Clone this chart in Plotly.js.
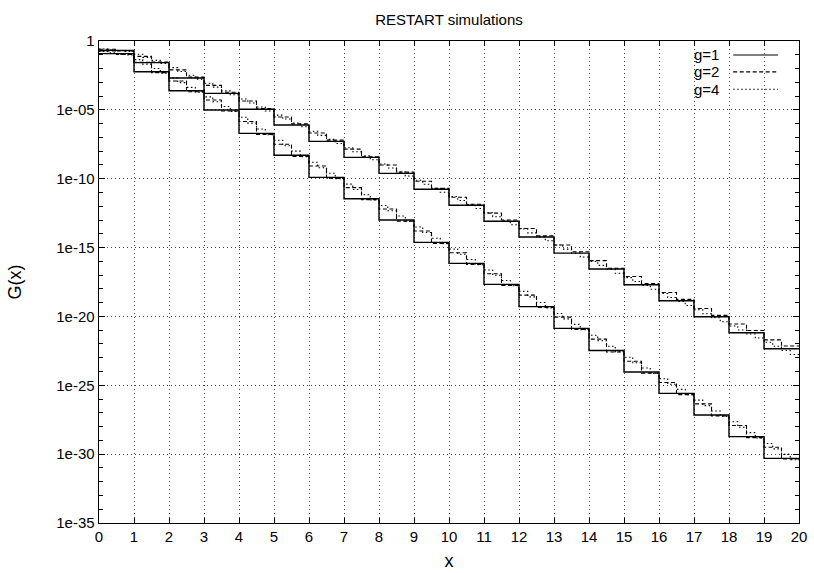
<!DOCTYPE html>
<html><head><meta charset="utf-8">
<script src="https://cdn.plot.ly/plotly-3.0.1.min.js"></script>
<style>html,body{margin:0;padding:0;background:#fff}#chart{width:814px;height:573px}</style>
</head><body><div id="chart"></div>
<script>
// Values are stored as decades below 1, i.e. G = 10^(-value).
const upperG1 = [0.68,1.57,2.69,3.80,4.96,6.10,7.29,8.45,9.61,10.77,11.93,13.09,14.23,15.40,16.56,17.70,18.86,20.02,21.18,22.35];
const upperG2 = [0.60,0.72, 1.12,1.52, 2.10,2.62, 3.22,3.72, 4.36,4.90, 5.52,6.02, 6.68,7.20, 7.85,8.40, 9.00,9.52, 10.18,10.70,
                 11.35,11.85, 12.50,13.00, 13.62,14.15, 14.81,15.30, 15.95,16.50, 17.10,17.62, 18.26,18.76, 19.42,19.92, 20.55,21.02, 21.70,22.15];
const upperG4 = [0.58,0.64,0.70,0.76, 0.96,1.19,1.41,1.63, 1.93,2.21,2.49,2.77, 3.07,3.35,3.62,3.90, 4.21,4.50,4.79,5.08,
                 5.38,5.66,5.95,6.23, 6.55,6.85,7.14,7.44, 7.75,8.04,8.33,8.62, 8.93,9.22,9.51,9.80, 10.11,10.40,10.69,10.98,
                 11.29,11.58,11.87,12.16, 12.47,12.76,13.05,13.34, 13.65,13.93,14.22,14.50, 14.81,15.11,15.40,15.69, 16.00,16.29,16.58,16.87,
                 17.18,17.46,17.75,18.03, 18.34,18.63,18.92,19.21, 19.52,19.81,20.10,20.39, 20.70,20.99,21.28,21.57, 21.88,22.17,22.47,22.76];
const lowerG1 = [0.92,2.23,3.61,5.01,6.71,8.30,9.90,11.45,13.00,14.62,16.15,17.67,19.29,20.87,22.47,24.04,25.59,27.16,28.73,30.31];
const lowerG2 = [0.72,0.98, 1.55,2.30, 2.90,3.68, 4.28,5.08, 5.85,6.78, 7.50,8.38, 9.08,9.98, 10.65,11.52, 12.20,13.08, 13.80,14.70,
                 15.38,16.22, 16.90,17.75, 18.45,19.35, 20.05,20.95, 21.65,22.58, 23.25,24.12, 24.80,25.68, 26.35,27.22, 27.92,28.80, 29.50,30.35];
const lowerG4 = [0.75,0.85,0.95,1.02, 1.35,1.68,2.00,2.33, 2.68,3.02,3.37,3.71, 4.06,4.41,4.76,5.11, 5.54,5.96,6.39,6.81,
                 7.21,7.61,8.00,8.40, 8.80,9.20,9.60,10.00, 10.39,10.78,11.16,11.55, 11.94,12.33,12.71,13.10, 13.51,13.91,14.32,14.72,
                 15.10,15.49,15.87,16.25, 16.63,17.01,17.39,17.77, 18.18,18.58,18.99,19.39, 19.79,20.18,20.58,20.97, 21.37,21.77,22.17,22.57,
                 22.96,23.36,23.75,24.14, 24.53,24.92,25.30,25.69, 26.08,26.48,26.87,27.26, 27.65,28.05,28.44,28.83, 29.23,29.62,30.02,30.41];
const xMax = 20;
const seriesNames = ['g=1','g=2','g=4'];
const yTickVals = [1,1e-5,1e-10,1e-15,1e-20,1e-25,1e-30,1e-35];
const yTickText = ['1','1e-05','1e-10','1e-15','1e-20','1e-25','1e-30','1e-35'];

const dashes = ['solid','4px,2.5px','1.5px,2.5px'];
function stepTrace(vals, name, dash){
  const n = vals.length, w = xMax / n;
  const x = [], y = [];
  for (let i = 0; i < n; i++){ x.push(i*w); y.push(Math.pow(10, -vals[i])); }
  x.push(xMax); y.push(Math.pow(10, -vals[n-1]));
  return {x, y, type:'scatter', mode:'lines', name, showlegend:false, legendgroup:name,
          line:{shape:'hv', color:'#000', width: dash==='solid'?1.4:1.1, dash}, hoverinfo:'skip'};
}
const traces = [
  stepTrace(upperG1, seriesNames[0], dashes[0]), stepTrace(lowerG1, seriesNames[0], dashes[0]),
  stepTrace(upperG2, seriesNames[1], dashes[1]), stepTrace(lowerG2, seriesNames[1], dashes[1]),
  stepTrace(upperG4, seriesNames[2], dashes[2]), stepTrace(lowerG4, seriesNames[2], dashes[2])
];
const minorVals = [];
for (let k = 1; k < 35; k++) if (k % 5) minorVals.push(Math.pow(10, -k));

// custom legend: text then line sample, as in the original
const annotations = [], shapes = [];
const legY = [0.971, 0.936, 0.900];
seriesNames.forEach((nm, i) => {
  annotations.push({xref:'paper', yref:'paper', x:0.888, y:legY[i], xanchor:'right', yanchor:'middle',
    text:nm, showarrow:false, font:{size:15, color:'#000'}});
  shapes.push({type:'line', xref:'paper', yref:'paper', x0:0.906, x1:0.970, y0:legY[i], y1:legY[i],
    line:{color:'#000', width:1.1, dash:dashes[i]}});
});

const gridStyle = {showgrid:true, gridcolor:'#444', griddash:'1px,3px', gridwidth:1};
const layout = {
  width:814, height:573,
  margin:{l:99, r:15, t:41, b:50},
  paper_bgcolor:'#fff', plot_bgcolor:'#fff',
  font:{family:'"Liberation Sans", Arial, sans-serif', size:15, color:'#000'},
  title:{text:'RESTART simulations', xref:'paper', x:0.5, xanchor:'center', y:0.965, yanchor:'middle', font:{size:15}},
  showlegend:false,
  xaxis:Object.assign({range:[0,20], dtick:1, tick0:0, ticks:'inside', ticklen:5, tickcolor:'#000', mirror:'allticks',
    showline:true, linecolor:'#000', linewidth:1.4, zeroline:false, title:{text:'x', standoff:10}}, gridStyle),
  yaxis:Object.assign({type:'log', range:[-35,0], tickvals:yTickVals, ticktext:yTickText, ticks:'inside', ticklen:6, tickcolor:'#000',
    mirror:'allticks', showline:true, linecolor:'#000', linewidth:1.4, zeroline:false, title:{text:'G(x)', standoff:30},
    minor:{tickvals:minorVals, ticks:'inside', ticklen:4, tickcolor:'#000', showgrid:false}}, gridStyle),
  annotations, shapes
};
Plotly.newPlot('chart', traces, layout, {staticPlot:true});
</script></body></html>
